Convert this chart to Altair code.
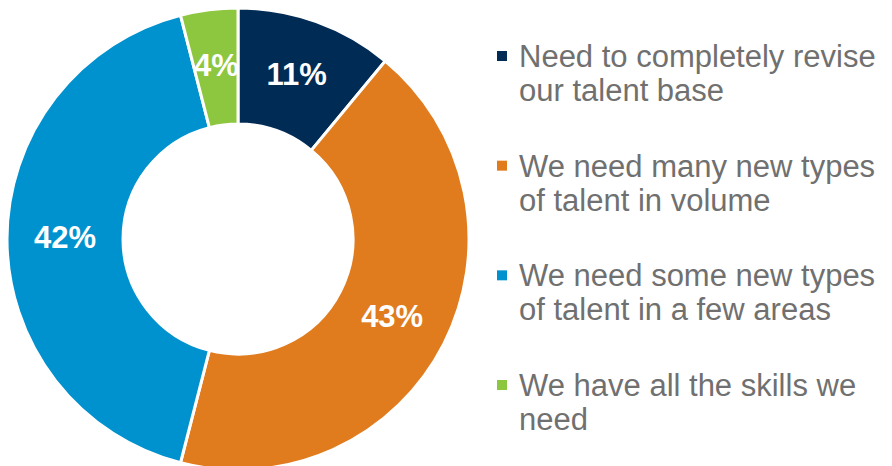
import altair as alt
import pandas as pd

categories = [
    "Need to completely revise our talent base",
    "We need many new types of talent in volume",
    "We need some new types of talent in a few areas",
    "We have all the skills we need",
]
values = [11, 43, 42, 4]
labels = ["11%", "43%", "42%", "4%"]
line1 = ["Need to completely revise", "We need many new types",
         "We need some new types", "We have all the skills we"]
line2 = ["our talent base", "of talent in volume",
         "of talent in a few areas", "need"]
colors = ["#002B55", "#E07B1E", "#0092CF", "#8DC63F"]

df = pd.DataFrame({
    "idx": list(range(len(categories))),
    "category": categories,
    "value": values,
    "label": labels,
    "line1": line1,
    "line2": line2,
})

color = alt.Color("category:N", scale=alt.Scale(domain=categories, range=colors), legend=None)
theta = alt.Theta("value:Q", stack=True, scale=alt.Scale(domain=[0, 100]))

base = alt.Chart(df).encode(theta=theta, order=alt.Order("idx:Q"),
                            x=alt.value(230), y=alt.value(231))

arcs = base.mark_arc(outerRadius=231, innerRadius=115, stroke="white", strokeWidth=3).encode(color=color)
texts = base.mark_text(radius=173, font="Liberation Sans", fontWeight="bold", fontSize=31,
                       color="white").encode(text="label:N")

ly = alt.Y("idx:Q", scale=alt.Scale(domain=[0, 3], range=[48, 377]), axis=None)
lbase = alt.Chart(df).encode(y=ly)
squares = lbase.mark_square(size=100, opacity=1).encode(x=alt.value(494), color=color)
t1 = lbase.mark_text(align="left", baseline="alphabetic", font="Liberation Sans", fontSize=31,
                     color="#707070", yOffset=11).encode(x=alt.value(511), text="line1:N")
t2 = lbase.mark_text(align="left", baseline="alphabetic", font="Liberation Sans", fontSize=31,
                     color="#707070", yOffset=45).encode(x=alt.value(511), text="line2:N")

chart = alt.layer(arcs, texts, squares, t1, t2).properties(
    width=876, height=458, padding=0, autosize=alt.AutoSizeParams(type="none")
).configure_view(stroke=None)

chart.save("out.html", embed_options={"renderer": "svg", "actions": False})
